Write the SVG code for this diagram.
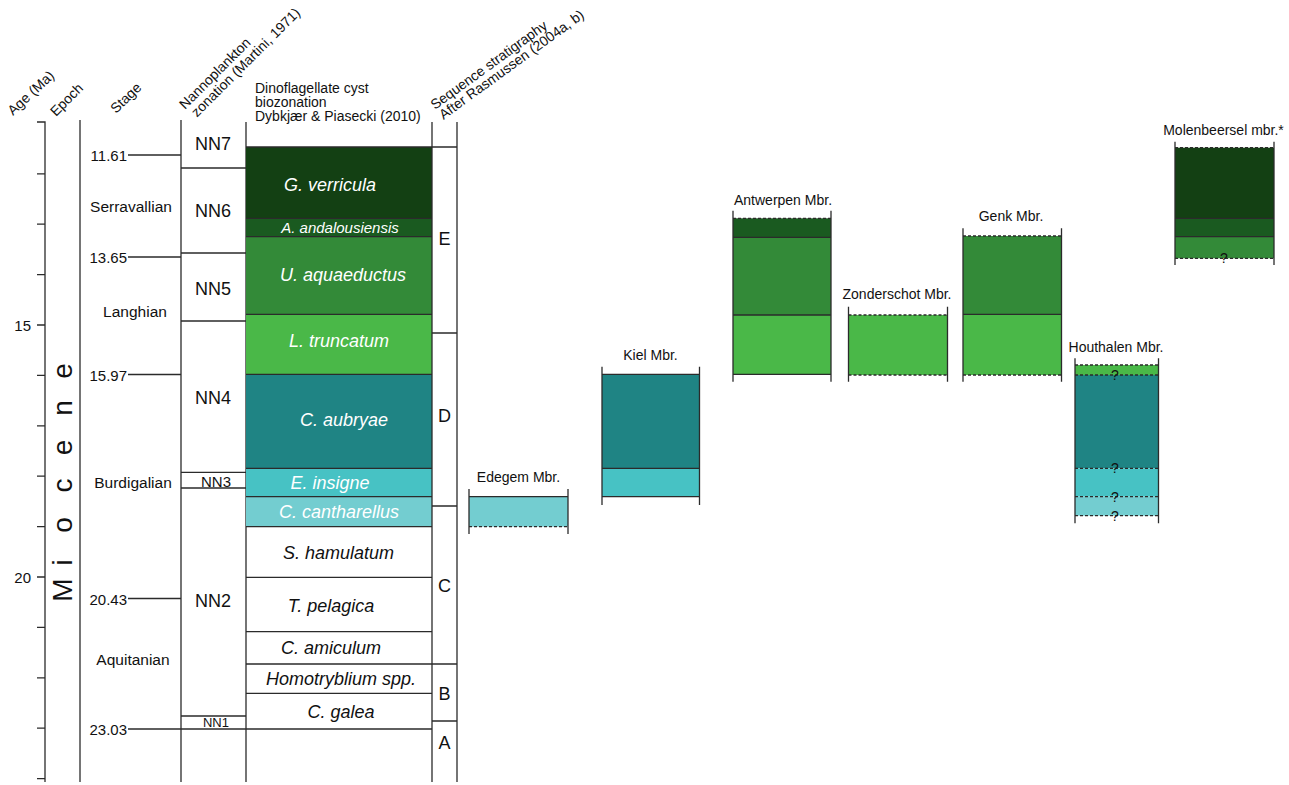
<svg xmlns="http://www.w3.org/2000/svg" width="1289" height="785" viewBox="0 0 1289 785">
<style>
text{font-family:"Liberation Sans",Arial,sans-serif;fill:#111}
.ln{stroke:#2b2b2b;stroke-width:1.3;fill:none}
.dl{stroke:#2b2b2b;stroke-width:1.3;fill:none;stroke-dasharray:3 2}
.hd{font-size:14px}
.ag{font-size:15px;text-anchor:end}
.st{font-size:15.5px;text-anchor:middle}
.nn{font-size:18px;text-anchor:middle}
.dz{font-size:18px;font-style:italic;text-anchor:middle}
.wz{fill:#fff}
.sq{font-size:18px;text-anchor:middle}
.mb{font-size:14px;text-anchor:middle}
.q{font-size:14px;text-anchor:middle}
.c1{fill:#134013}.c2{fill:#1a5a20}.c3{fill:#338a38}.c4{fill:#4ab848}
.c5{fill:#1f8484}.c6{fill:#47c2c4}.c7{fill:#73cdd0}
</style>

<g id="headers">
<text class="hd" transform="translate(13,116) rotate(-43)">Age (Ma)</text>
<text class="hd" transform="translate(56,117) rotate(-45)">Epoch</text>
<text class="hd" transform="translate(116,114) rotate(-44)">Stage</text>
<g transform="translate(185,110) rotate(-45)">
<text class="hd" x="0" y="0">Nannoplankton</text>
<text class="hd" x="3" y="14">zonation (Martini, 1971)</text>
</g>
<text class="hd" x="255" y="93">Dinoflagellate cyst</text>
<text class="hd" x="255" y="107">biozonation</text>
<text class="hd" x="255" y="121">Dybkjær &amp; Piasecki (2010)</text>
<g transform="translate(435,110) rotate(-36)">
<text class="hd" x="0" y="0">Sequence stratigraphy</text>
<text class="hd" x="1" y="13">After Rasmussen (2004a, b)</text>
</g>
</g>

<g id="age-axis">
<path class="ln" d="M37,122H45V782M37,173.8H45M37,224.2H45M37,274.6H45M37,325H45M37,375.4H45M37,425.8H45M37,476.2H45M37,526.6H45M37,577H45M37,627.4H45M37,677.8H45M37,728.2H45M37,778.6H45"/>
<text class="ag" x="31" y="330.5">15</text>
<text class="ag" x="31" y="582.5">20</text>
</g>

<g id="epoch">
<path class="ln" d="M80,120V782"/>
<text transform="translate(72,610) rotate(-90)" x="8.3 44.4 77.2 117.5 154.7 194.2 231.2" y="0" style="font-size:28px">Miocene</text>
</g>

<g id="stage">
<path class="ln" d="M181,120V782M128,155H181M128,257H181M128,374.5H181M128,598.5H181M128,729H432"/>
<text class="ag" x="127" y="160.5">11.61</text>
<text class="ag" x="127" y="262.5">13.65</text>
<text class="ag" x="127" y="380.5">15.97</text>
<text class="ag" x="127" y="604.5">20.43</text>
<text class="ag" x="127" y="735">23.03</text>
<text class="st" x="131" y="211.5">Serravallian</text>
<text class="st" x="135" y="316.5">Langhian</text>
<text class="st" x="133" y="488">Burdigalian</text>
<text class="st" x="133" y="664.5">Aquitanian</text>
</g>

<g id="nannoplankton">
<path class="ln" d="M246,122V782M181,168H246M181,253H246M181,321H246M181,472.3H246M181,488H246M181,716H246"/>
<text class="nn" x="213" y="150">NN7</text>
<text class="nn" x="213" y="217">NN6</text>
<text class="nn" x="213" y="295">NN5</text>
<text class="nn" x="213" y="403.5">NN4</text>
<text class="nn" x="216" y="486.5" style="font-size:15px">NN3</text>
<text class="nn" x="213" y="607">NN2</text>
<text class="nn" x="216" y="727" style="font-size:13px">NN1</text>
</g>

<g id="dinocyst">
<rect class="c1" x="246" y="147" width="186" height="71.3"/>
<rect class="c2" x="246" y="218.3" width="186" height="18.4"/>
<rect class="c3" x="246" y="236.7" width="186" height="77.6"/>
<rect class="c4" x="246" y="314.3" width="186" height="60"/>
<rect class="c5" x="246" y="374.3" width="186" height="94"/>
<rect class="c6" x="246" y="468.3" width="186" height="28.4"/>
<rect class="c7" x="246" y="496.7" width="186" height="30"/>
<path class="ln" d="M432,122V782M246,147H457M246,218.3H432M246,236.7H432M246,314.3H432M246,374.3H432M246,468.3H432M246,496.7H432M246,526.7H432M246,577.3H432M246,631.7H432M246,664H432M246,693.3H432"/>
<text class="dz wz" x="330" y="190.5">G. verricula</text>
<text class="dz wz" x="340" y="232.5" style="font-size:15px">A. andalousiensis</text>
<text class="dz wz" x="343" y="281">U. aquaeductus</text>
<text class="dz wz" x="339" y="347">L. truncatum</text>
<text class="dz wz" x="344" y="425.5">C. aubryae</text>
<text class="dz wz" x="330" y="489">E. insigne</text>
<text class="dz wz" x="339" y="518">C. cantharellus</text>
<text class="dz" x="338.5" y="558.5">S. hamulatum</text>
<text class="dz" x="331" y="611.5">T. pelagica</text>
<text class="dz" x="331" y="654">C. amiculum</text>
<text class="dz" x="341" y="685">Homotryblium spp.</text>
<text class="dz" x="341" y="717.5">C. galea</text>
</g>

<g id="sequence">
<path class="ln" d="M457,122V782M432,333H457M432,506H457M432,664H457M432,721H457"/>
<text class="sq" x="444.5" y="245">E</text>
<text class="sq" x="444.5" y="421.5">D</text>
<text class="sq" x="444.5" y="591.5">C</text>
<text class="sq" x="444.5" y="700">B</text>
<text class="sq" x="444.5" y="749">A</text>
</g>

<g id="edegem">
<rect class="c7" x="469" y="496.7" width="99" height="30"/>
<path class="ln" d="M469,489V534M568,489V534M469,496.7H568"/>
<path class="dl" d="M469,526.7H568"/>
<text class="mb" x="518.5" y="481.5">Edegem Mbr.</text>
</g>

<g id="kiel">
<rect class="c5" x="602" y="374.3" width="97.5" height="94"/>
<rect class="c6" x="602" y="468.3" width="97.5" height="28.4"/>
<path class="ln" d="M602,366.7V505M699.5,366.7V505M602,374.3H699.5M602,468.3H699.5M602,496.7H699.5"/>
<text class="mb" x="650.5" y="360">Kiel Mbr.</text>
</g>

<g id="antwerpen">
<rect class="c2" x="733" y="218.3" width="98" height="19"/>
<rect class="c3" x="733" y="237.3" width="98" height="77.7"/>
<rect class="c4" x="733" y="315" width="98" height="59.3"/>
<path class="ln" d="M733,210.7V381.7M831,210.7V381.7M733,237.3H831M733,315H831M733,374.3H831"/>
<path class="dl" d="M733,218.3H831"/>
<text class="mb" x="783" y="205">Antwerpen Mbr.</text>
</g>

<g id="zonderschot">
<rect class="c4" x="848.5" y="315" width="99" height="60"/>
<path class="ln" d="M848.5,306.7V381.7M947.5,306.7V381.7"/>
<path class="dl" d="M848.5,315H947.5M848.5,375H947.5"/>
<text class="mb" x="897" y="299">Zonderschot Mbr.</text>
</g>

<g id="genk">
<rect class="c3" x="963" y="236" width="98.5" height="78.3"/>
<rect class="c4" x="963" y="314.3" width="98.5" height="60.7"/>
<path class="ln" d="M963,228.3V381.7M1061.5,228.3V381.7M963,314.3H1061.5"/>
<path class="dl" d="M963,236H1061.5M963,375H1061.5"/>
<text class="mb" x="1011" y="221">Genk Mbr.</text>
</g>

<g id="houthalen">
<rect class="c4" x="1075" y="365" width="83.5" height="10"/>
<rect class="c5" x="1075" y="375" width="83.5" height="93.3"/>
<rect class="c6" x="1075" y="468.3" width="83.5" height="28.4"/>
<rect class="c7" x="1075" y="496.7" width="83.5" height="19"/>
<path class="ln" d="M1075,358.3V523.3M1158.5,358.3V523.3"/>
<path class="dl" d="M1075,365H1158.5M1075,375H1158.5M1075,468.3H1158.5M1075,496.7H1158.5M1075,515.7H1158.5"/>
<text class="mb" x="1116" y="352">Houthalen Mbr.</text>
<text class="q" x="1115" y="380">?</text>
<text class="q" x="1115" y="473.3">?</text>
<text class="q" x="1115" y="501.7">?</text>
<text class="q" x="1115" y="520.7">?</text>
</g>

<g id="molenbeersel">
<rect class="c1" x="1175" y="147.7" width="99" height="70.6"/>
<rect class="c2" x="1175" y="218.3" width="99" height="18.4"/>
<rect class="c3" x="1175" y="236.7" width="99" height="21.6"/>
<path class="ln" d="M1175,141.7V265M1274,141.7V265M1175,218.3H1274M1175,236.7H1274"/>
<path class="dl" d="M1175,147.7H1274M1175,258.3H1274"/>
<text class="mb" x="1223.5" y="135">Molenbeersel mbr.*</text>
<text class="q" x="1224" y="263.3">?</text>
</g>
</svg>
